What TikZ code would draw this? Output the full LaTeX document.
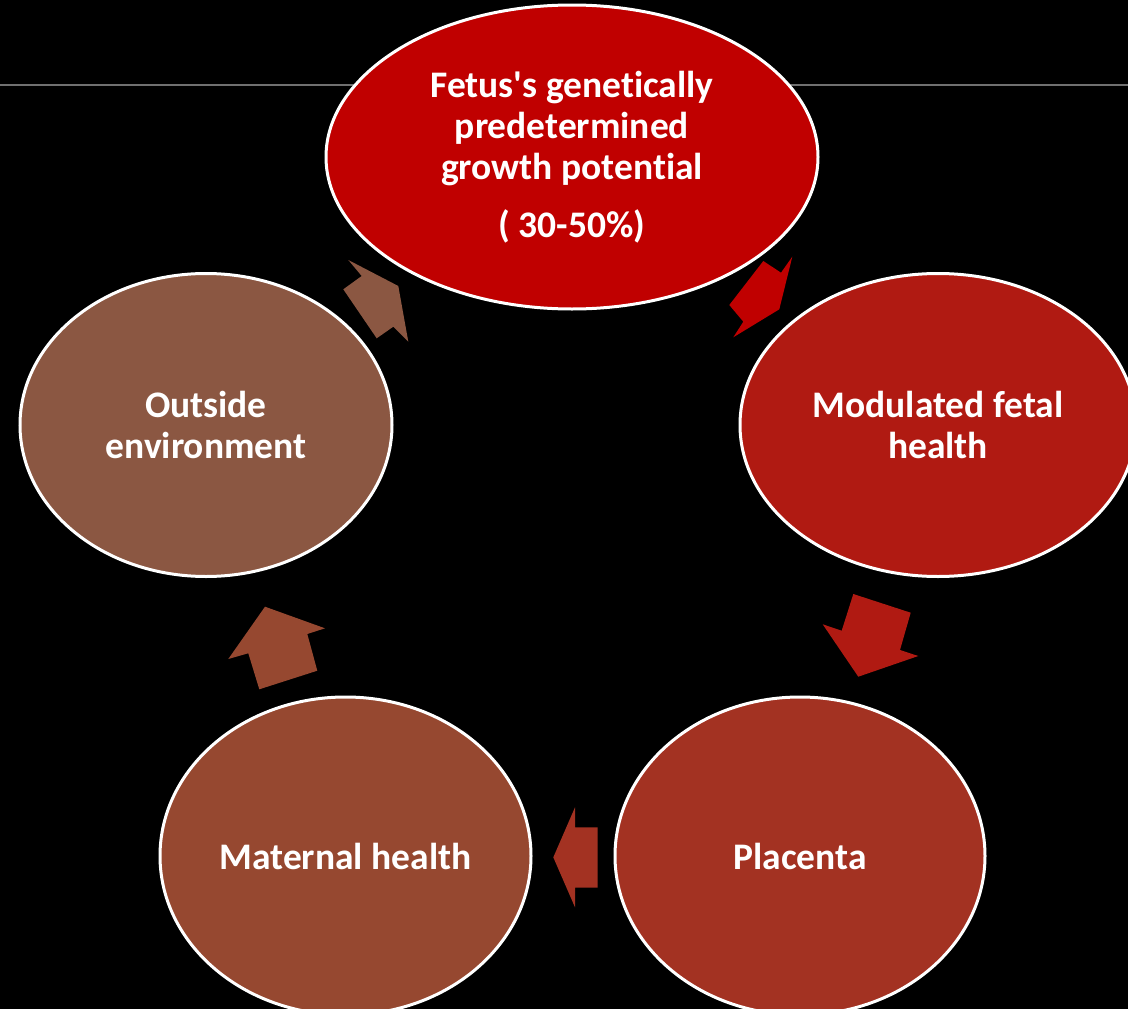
\documentclass[tikz,border=0pt]{standalone}
\usepackage{fontspec}
\setmainfont{Carlito}[Ligatures={TeX,NoCommon}]
\usetikzlibrary{shapes.geometric}
\definecolor{cA}{HTML}{C00000}
\definecolor{cB}{HTML}{B01A12}
\definecolor{cC}{HTML}{A33222}
\definecolor{cD}{HTML}{964830}
\definecolor{cE}{HTML}{8B5742}
\definecolor{rule}{RGB}{112,112,112}
\tikzset{
  cyc/.style={ellipse, draw=white, line width=3pt, inner sep=0pt, text=white,
    align=center, font=\bfseries\fontsize{37.5}{41}\selectfont}
}
\begin{document}
\begin{tikzpicture}[x=1pt,y=-1pt]
\fill[black] (0,0) rectangle (1128,1009);
\useasboundingbox (0,0) rectangle (1128,1009);
\clip (0,0) rectangle (1128,1009);
\draw[rule, line width=2pt] (0,85) -- (1128,85);
\node[cyc, fill=cA, minimum width=492pt, minimum height=304pt] (fetus) at (572,157)
  {Fetus\textquotesingle s genetically\\predetermined\\growth potential\\[17pt]( 30-50\%)};
\node[cyc, fill=cB, minimum width=396pt, minimum height=303pt] (mod) at (938,425)
  {Modulated fetal\\health};
\node[cyc, fill=cC, minimum width=370pt, minimum height=318pt] (plac) at (800,856)
  {Placenta};
\node[cyc, fill=cD, minimum width=371pt, minimum height=318pt] (mat) at (345.5,856)
  {Maternal health};
\node[cyc, fill=cE, minimum width=372pt, minimum height=303pt] (out) at (206,425)
  {Outside\\environment};
% block arrows
\fill[cA] (763.3,261) -- (781,272.7) -- (792.3,256.7) -- (779.3,309.3) -- (733.3,337.3) -- (743.3,321.7) -- (729.3,305) -- cycle;
\fill[cB] (853.3,594) -- (910.7,612.7) -- (900,650) -- (918.3,656) -- (858.3,676.7) -- (822.7,624.3) -- (841.7,630.7) -- cycle;
\fill[cC] (597.7,827.3) -- (575,827.3) -- (575,807.3) -- (553.3,857.3) -- (575,907.3) -- (575,887.7) -- (597.7,887.7) -- cycle;
\fill[cD] (259.3,689.3) -- (248.3,653.3) -- (228.3,659) -- (265,606.7) -- (325,628.3) -- (307.3,634) -- (317.3,670.7) -- cycle;
\fill[cE] (343.3,289.3) -- (361.7,276) -- (348.3,260) -- (398.3,286) -- (408.3,341.7) -- (393.3,326.7) -- (376.7,338.3) -- cycle;
\end{tikzpicture}
\end{document}
